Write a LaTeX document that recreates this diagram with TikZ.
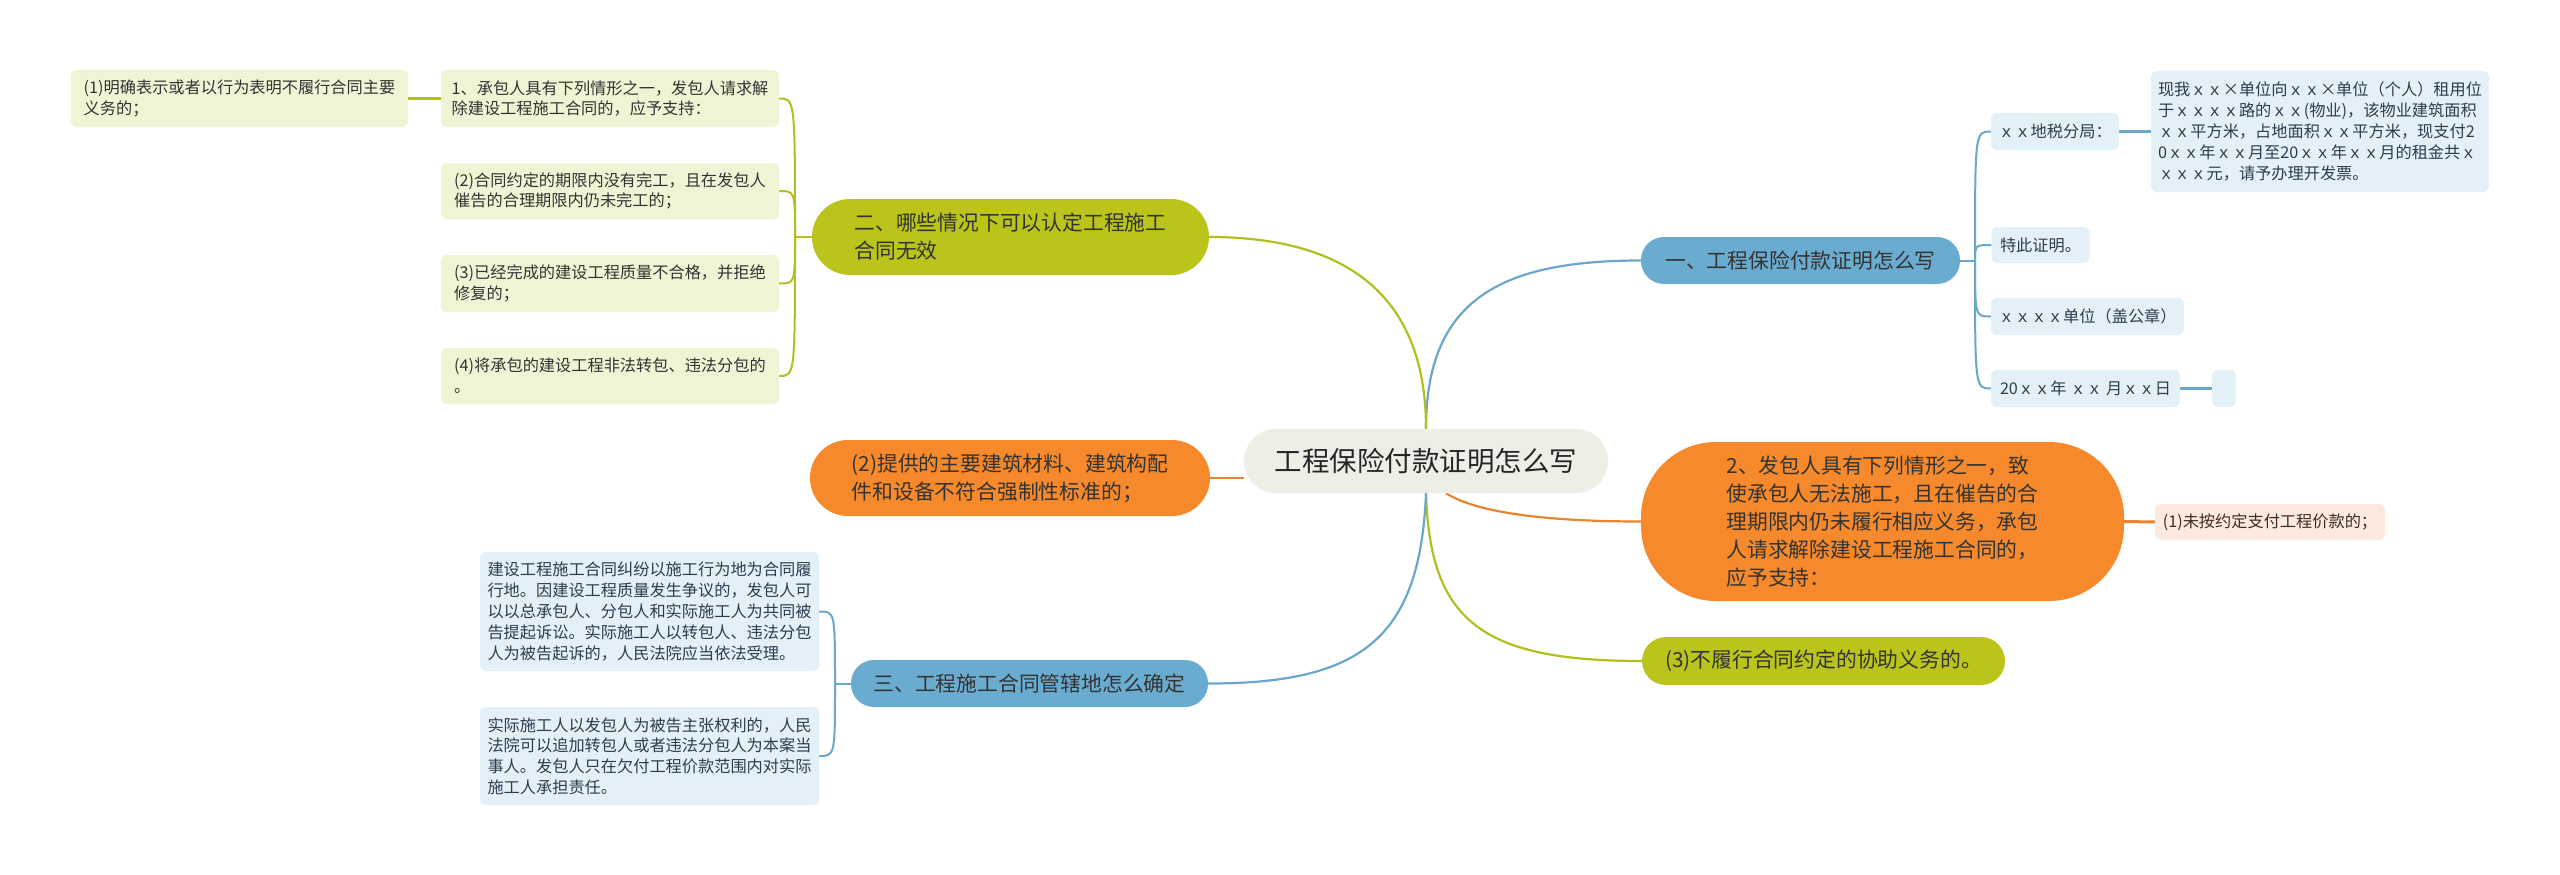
\documentclass[tikz,border=0pt]{standalone}
\usepackage{fontspec}
\setmainfont{Noto Sans CJK SC}
\usetikzlibrary{backgrounds}
\pgfdeclarelayer{paper}
\pgfsetlayers{paper,background,main}
\definecolor{cText}{HTML}{333333}
\definecolor{cTextB}{HTML}{2C3D4E}
\definecolor{cTextO}{HTML}{3E2C22}
\definecolor{cTextC}{HTML}{262626}
\definecolor{cCen}{HTML}{EFEEE6}
\definecolor{cG}{HTML}{BAC41B}
\definecolor{cGl}{HTML}{F1F4D4}
\definecolor{cGline}{HTML}{B3BF1E}
\definecolor{cB}{HTML}{6AACD0}
\definecolor{cBl}{HTML}{E4F0F8}
\definecolor{cBline}{HTML}{6AA7C9}
\definecolor{cO}{HTML}{F6892B}
\definecolor{cOl}{HTML}{FDEADE}
\definecolor{cOline}{HTML}{EC832E}
\tikzset{
  box/.style={inner sep=0pt, align=left, text=cText, font=\fontsize{16.2}{20.8}\selectfont, rounded corners=6pt},
  gbox/.style={box, fill=cGl},
  bbox/.style={box, fill=cBl, text=cTextB},
  pbox/.style={box, fill=cOl, text=cTextO},
  pill/.style={inner sep=0pt, align=left, text=cText, font=\fontsize{20.8}{28}\selectfont},
  mainline/.style={line width=2.2pt},
  busline/.style={line width=2pt},
  stubline/.style={line width=3pt},
}
\begin{document}
\begin{tikzpicture}[x=1pt,y=-1pt]
\begin{pgfonlayer}{paper}
  \fill[white] (0,0) rectangle (2560,875);
\end{pgfonlayer}
\useasboundingbox (0,0) rectangle (2560,875);

% central node
\node[fill=cCen, rounded corners=32pt, minimum width=364pt, minimum height=64pt, inner sep=0pt,
  font=\fontsize{27.5}{33}\selectfont, text=cTextC] (root) at (1426,461) {工程保险付款证明怎么写};

% section one (blue, right top)
\node[pill, fill=cB, rounded corners=23pt, minimum width=319pt, minimum height=47pt] (b1) at (1800.5,260.5) {一、工程保险付款证明怎么写};
\node[bbox, minimum width=128pt, minimum height=37pt] (b1a) at (2055,131.5) {ｘｘ地税分局：};
\node[bbox, minimum width=338pt, minimum height=121pt] (b1a1) at (2320,131.5) {现我ｘｘ×单位向ｘｘ×单位（个人）租用位\\于ｘｘｘｘ路的ｘｘ(物业)，该物业建筑面积\\ｘｘ平方米，占地面积ｘｘ平方米，现支付2\\0ｘｘ年ｘｘ月至20ｘｘ年ｘｘ月的租金共ｘ\\ｘｘｘ元，请予办理开发票。};
\node[bbox, minimum width=98pt, minimum height=36pt] (b1b) at (2040.5,245) {特此证明。};
\node[bbox, minimum width=193pt, minimum height=37pt] (b1c) at (2087.5,316.5) {ｘｘｘｘ单位（盖公章）};
\node[bbox, minimum width=189pt, minimum height=37pt] (b1d) at (2085.5,388.5) {20ｘｘ年 ｘｘ 月ｘｘ日};
\node[bbox, minimum width=24pt, minimum height=37pt] (b1d1) at (2224,388.5) {};

% orange right
\node[pill, fill=cO, rounded corners=75pt, minimum width=483pt, minimum height=159pt] (o1) at (1882.5,521.5) {2、发包人具有下列情形之一，致\\使承包人无法施工，且在催告的合\\理期限内仍未履行相应义务，承包\\人请求解除建设工程施工合同的，\\应予支持：};
\node[pbox, minimum width=230pt, minimum height=36pt] (o1a) at (2270,522) {(1)未按约定支付工程价款的；};

% olive right bottom
\node[pill, fill=cG, rounded corners=24pt, minimum width=363pt, minimum height=48pt] (g3) at (1823.5,661) {(3)不履行合同约定的协助义务的。};

% section three (blue, left bottom)
\node[pill, fill=cB, rounded corners=23pt, minimum width=357pt, minimum height=47pt] (b3) at (1029.5,683.5) {三、工程施工合同管辖地怎么确定};
\node[bbox, minimum width=339pt, minimum height=119pt] (b3a) at (649.5,611.5) {建设工程施工合同纠纷以施工行为地为合同履\\行地。因建设工程质量发生争议的，发包人可\\以以总承包人、分包人和实际施工人为共同被\\告提起诉讼。实际施工人以转包人、违法分包\\人为被告起诉的，人民法院应当依法受理。};
\node[bbox, minimum width=339pt, minimum height=98pt] (b3b) at (649.5,756) {实际施工人以发包人为被告主张权利的，人民\\法院可以追加转包人或者违法分包人为本案当\\事人。发包人只在欠付工程价款范围内对实际\\施工人承担责任。};

% orange left
\node[pill, fill=cO, rounded corners=38pt, minimum width=400pt, minimum height=76pt] (o2) at (1010,478) {(2)提供的主要建筑材料、建筑构配\\件和设备不符合强制性标准的；};

% section two (olive, left top)
\node[pill, fill=cG, rounded corners=38pt, minimum width=397pt, minimum height=76pt] (g2) at (1010.5,237) {二、哪些情况下可以认定工程施工\\合同无效};
\node[gbox, minimum width=338pt, minimum height=57pt] (g2a) at (610,98.5) {1、承包人具有下列情形之一，发包人请求解\\除建设工程施工合同的，应予支持：};
\node[gbox, minimum width=337pt, minimum height=57pt] (g2a1) at (239.5,98.5) {(1)明确表示或者以行为表明不履行合同主要\\义务的；};
\node[gbox, minimum width=338pt, minimum height=56pt] (g2b) at (610,191) {(2)合同约定的期限内没有完工，且在发包人\\催告的合理期限内仍未完工的；};
\node[gbox, minimum width=338pt, minimum height=57pt] (g2c) at (610,283.5) {(3)已经完成的建设工程质量不合格，并拒绝\\修复的；};
\node[gbox, minimum width=338pt, minimum height=56pt] (g2d) at (610,376) {(4)将承包的建设工程非法转包、违法分包的\\。};

% bus coordinates
\coordinate (b1bus) at (1975,260.5);
\coordinate (g2bus) at (795,237);
\coordinate (b3bus) at (835,683.5);

\begin{scope}[on background layer]
  % main branches
  \draw[cBline, mainline] (root.north) .. controls (1426,300) and (1500,260.5) .. (b1.west);
  \draw[cGline, mainline] (root.north) .. controls (1426,290) and (1340,237) .. (g2.east);
  \draw[cOline, mainline] (o2.east) -- (root.west |- o2.east);
  \draw[cOline, mainline] ([xshift=20pt]root.south) .. controls (1480,515) and (1560,521.5) .. (o1.west);
  \draw[cGline, mainline] (root.south) .. controls (1430,620) and (1480,661) .. (g3.west);
  \draw[cBline, mainline] (root.south) .. controls (1420,640) and (1360,683.5) .. (b3.east);
  % section one
  \draw[cBline, busline] (b1.east) -- (b1bus);
  \foreach \n in {b1a,b1b,b1c,b1d}
    \draw[cBline, busline] (b1bus) .. controls (b1bus |- \n.west) and (b1bus |- \n.west) .. (\n.west);
  \draw[cBline, stubline] (b1a.east) -- (b1a1.west);
  \draw[cBline, stubline] (b1d.east) -- (b1d1.west);
  % orange right
  \draw[cOline, stubline] (o1.east) -- (o1a.west);
  % section two
  \draw[cGline, busline] (g2.west) -- (g2bus);
  \foreach \n in {g2a,g2b,g2c,g2d}
    \draw[cGline, busline] (g2bus) .. controls (g2bus |- \n.east) and (g2bus |- \n.east) .. (\n.east);
  \draw[cGline, stubline] (g2a.west) -- (g2a1.east);
  % section three
  \draw[cBline, busline] (b3.west) -- (b3bus);
  \foreach \n in {b3a,b3b}
    \draw[cBline, busline] (b3bus) .. controls (b3bus |- \n.east) and (b3bus |- \n.east) .. (\n.east);
\end{scope}
\end{tikzpicture}
\end{document}
